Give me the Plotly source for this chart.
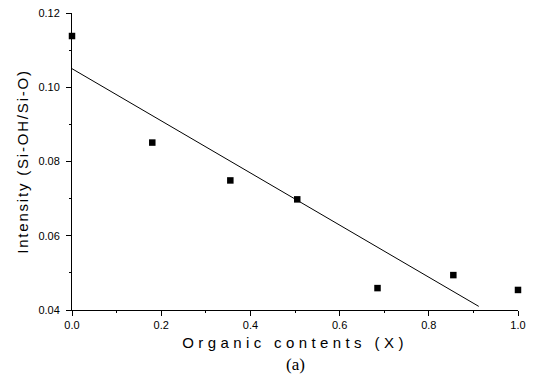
import plotly.graph_objects as go

# Data
organic_x = [0.0, 0.18, 0.355, 0.505, 0.685, 0.855, 1.0]
intensity = [0.1138, 0.0851, 0.0749, 0.0698, 0.0459, 0.0494, 0.0454]

# Linear fit drawn in the reference
fit_intercept = 0.105
fit_slope = -0.0702
fit_x = [0.0, 0.912]
fit_y = [fit_intercept + fit_slope * x for x in fit_x]

x_ticks = [0.0, 0.2, 0.4, 0.6, 0.8, 1.0]
x_ticktext = ["0.0", "0.2", "0.4", "0.6", "0.8", "1.0"]
y_ticks = [0.04, 0.06, 0.08, 0.10, 0.12]
y_ticktext = ["0.04", "0.06", "0.08", "0.10", "0.12"]

x_title = "Organic contents (X)"
y_title = "Intensity (Si-OH/Si-O)"

fig = go.Figure()
fig.add_trace(go.Scatter(
    x=fit_x, y=fit_y, mode="lines",
    line=dict(color="black", width=1),
    showlegend=False, cliponaxis=False,
))
fig.add_trace(go.Scatter(
    x=organic_x, y=intensity, mode="markers",
    marker=dict(symbol="square", size=6.5, color="black"),
    showlegend=False, cliponaxis=False,
))

axis_common = dict(
    showgrid=False, zeroline=False, showline=True, linecolor="black",
    linewidth=1, ticks="outside", ticklen=5, tickcolor="black",
    automargin=False, ticklabeloverflow="allow",
    tickfont=dict(family="Liberation Sans", size=11, color="black"),
)

fig.update_xaxes(
    range=[0, 1.0], tickvals=x_ticks, ticktext=x_ticktext,
    minor=dict(dtick=0.1, ticks="outside", ticklen=2, tickcolor="black"),
    title=dict(text='<span style="letter-spacing:4.4px">' + x_title + "</span>",
               standoff=7,
               font=dict(family="Liberation Sans", size=15, color="black")),
    **axis_common,
)
fig.update_yaxes(
    range=[0.04, 0.12], tickvals=y_ticks, ticktext=y_ticktext,
    ticklabelstandoff=4,
    minor=dict(dtick=0.01, ticks="outside", ticklen=2, tickcolor="black"),
    title=dict(text='<span style="letter-spacing:1.8px">' + y_title + "</span>",
               standoff=6,
               font=dict(family="Liberation Sans", size=15, color="black")),
    **axis_common,
)

fig.add_annotation(
    text="(a)", x=0.5, xref="paper", y=-0.182, yref="paper", yanchor="middle",
    showarrow=False, font=dict(family="Liberation Serif", size=17, color="black"),
)

# The page body adds an 8 px margin, so the figure is 8 px smaller and
# its margins are shifted to keep the plot area where the reference has it.
fig.update_layout(
    width=528, height=378,
    margin=dict(l=64, r=18, t=5, b=76),
    plot_bgcolor="white", paper_bgcolor="white",
)

fig.write_html("out.html")
